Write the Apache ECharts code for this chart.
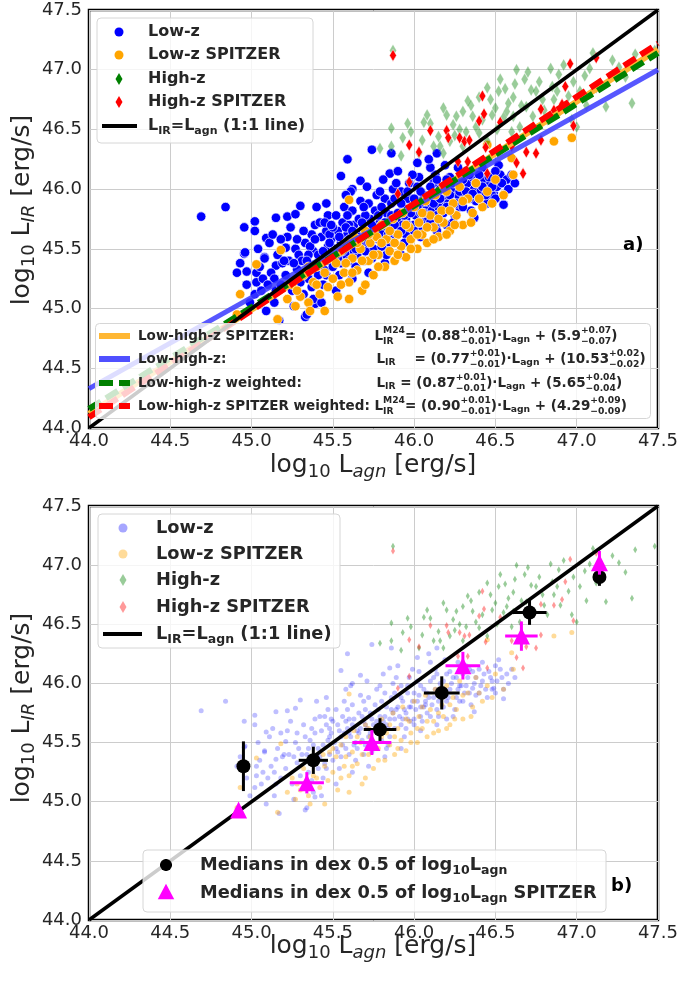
<!DOCTYPE html>
<html><head><meta charset="utf-8">
<script src="https://cdn.jsdelivr.net/npm/echarts@6/dist/echarts.min.js"></script>
<style>html,body{margin:0;padding:0;background:#fff}#c{width:681px;height:982px}</style>
</head><body><div id="c"></div>
<script>
// ---------------- DATA ----------------
const tickValues = [44.0, 44.5, 45.0, 45.5, 46.0, 46.5, 47.0, 47.5];

// Low-z sample: [log10 L_agn, log10 L_IR]
const lowZ = [
 [44.69,45.77],[44.84,45.85],[44.955,45.68],[45.02,45.73],[45.02,45.65],[45.09,45.59],[45.15,45.76],[45.22,45.77],[45.27,45.79],[45.30,45.86],
 [44.955,45.46],[44.91,45.30],[44.97,45.31],[45.03,45.30],[45.03,45.22],[45.08,45.43],[45.15,45.15],[45.17,44.90],[45.33,44.93],[45.39,45.04],
 [45.15,45.36],[45.21,45.51],[45.59,46.25],[45.55,46.11],[45.74,46.33],[45.85,46.13],[45.67,46.07],[45.62,46.00],[45.86,46.30],[46.55,45.87],
 [46.37,45.76],[46.49,45.96],[46.14,46.30],[46.02,46.22],
 [44.93,45.38],[44.97,45.20],[44.99,45.05],[44.96,45.47],
 [45.02,45.12],[45.05,45.35],[45.07,45.25],[45.04,45.50],[45.09,44.98],[45.08,45.42],
 [45.12,45.30],[45.14,45.05],[45.16,45.45],[45.18,45.20],[45.11,45.55],[45.19,45.38],[45.13,45.62],
 [45.21,45.28],[45.23,45.40],[45.25,45.15],[45.27,45.50],[45.22,45.60],[45.28,45.33],[45.26,45.02],[45.29,45.45],[45.24,45.68],
 [45.31,45.40],[45.33,45.55],[45.35,45.25],[45.37,45.62],[45.32,45.12],[45.38,45.48],[45.36,45.35],[45.39,45.70],[45.34,44.95],[45.38,45.08],
 [45.41,45.45],[45.43,45.60],[45.45,45.32],[45.47,45.52],[45.42,45.72],[45.48,45.40],[45.46,45.65],[45.44,45.20],[45.49,45.58],[45.43,45.05],[45.47,45.78],
 [45.51,45.50],[45.53,45.65],[45.55,45.38],[45.57,45.58],[45.52,45.78],[45.58,45.45],[45.56,45.72],[45.54,45.28],[45.59,45.62],[45.52,45.15],[45.57,45.85],[45.55,45.55],
 [45.61,45.55],[45.63,45.70],[45.65,45.45],[45.67,45.62],[45.62,45.82],[45.68,45.52],[45.66,45.75],[45.64,45.35],[45.69,45.68],[45.62,45.25],[45.67,45.90],[45.65,45.60],[45.61,45.98],
 [45.71,45.62],[45.73,45.75],[45.75,45.50],[45.77,45.68],[45.72,45.88],[45.78,45.58],[45.76,45.82],[45.74,45.42],[45.79,45.72],[45.72,45.30],[45.77,45.95],[45.75,45.65],[45.71,46.02],
 [45.81,45.68],[45.83,45.80],[45.85,45.55],[45.87,45.75],[45.82,45.92],[45.88,45.62],[45.86,45.88],[45.84,45.48],[45.89,45.78],[45.82,45.38],[45.87,46.00],[45.85,45.70],[45.81,46.08],
 [45.91,45.72],[45.93,45.85],[45.95,45.62],[45.97,45.80],[45.92,45.98],[45.98,45.68],[45.96,45.92],[45.94,45.55],[45.99,45.85],[45.92,45.45],[45.97,46.05],[45.95,45.75],
 [46.01,45.78],[46.03,45.90],[46.05,45.68],[46.07,45.85],[46.02,46.02],[46.08,45.75],[46.06,45.95],[46.04,45.60],[46.09,45.88],[46.03,46.10],[46.07,45.82],
 [46.11,45.82],[46.13,45.95],[46.15,45.72],[46.17,45.90],[46.12,46.05],[46.18,45.80],[46.16,46.00],[46.14,45.65],[46.19,45.92],[46.13,46.12],
 [46.21,45.88],[46.23,46.00],[46.25,45.78],[46.27,45.95],[46.22,46.10],[46.28,45.85],[46.26,46.05],[46.24,45.72],[46.29,45.98],
 [46.31,45.92],[46.33,46.05],[46.35,45.82],[46.37,46.00],[46.32,46.15],[46.38,45.90],[46.36,46.10],
 [46.41,45.98],[46.43,46.08],[46.45,45.88],[46.47,46.05],[46.42,46.18],[46.48,45.95],
 [46.51,46.02],[46.53,46.12],[46.55,45.95],[46.57,46.08],[46.52,46.20],
 [45.46,45.88],[45.58,45.95],[45.69,45.40],[45.80,45.52],[45.90,46.15],[46.00,45.70],[46.10,46.18],[46.20,45.70],[45.40,45.85],[45.53,45.42],
 [45.63,45.48],[45.73,45.58],[45.83,45.65],[45.93,45.70],[46.04,45.80],[46.15,45.85],[45.36,45.52],[45.48,45.62],[45.60,45.70],[45.70,45.78],
 [45.42,45.38],[45.44,45.48],[45.46,45.28],[45.48,45.55],[45.50,45.35],[45.50,45.68],[45.52,45.45],[45.54,45.60],[45.56,45.48],[45.58,45.68],
 [45.60,45.40],[45.60,45.58],[45.62,45.65],[45.64,45.50],[45.66,45.58],[45.68,45.72],[45.70,45.48],[45.70,45.65],[45.72,45.55],[45.74,45.70],
 [45.76,45.60],[45.78,45.78],[45.80,45.62],[45.80,45.85],[45.82,45.72],[45.84,45.62],[45.86,45.78],[45.88,45.70],[45.88,45.92],[45.90,45.80],
 [45.92,45.65],[45.92,45.88],[45.94,45.78],[45.96,45.70],[45.96,45.98],[45.98,45.80],[46.00,45.92],[46.00,45.65],[46.02,45.85],[46.04,45.72],
 [46.04,45.98],[46.06,45.80],[46.08,45.92],[46.10,45.72],[46.10,46.02],[46.12,45.88],[46.14,45.78],[46.14,46.08],[46.16,45.92],[46.18,46.02],
 [46.20,45.85],[46.20,46.08],[46.22,45.95],[46.24,46.05],[46.26,45.88],[46.28,45.98],[46.30,46.08],[46.30,45.85],[46.32,45.98],[46.34,45.92],
 [46.34,46.12],[46.36,45.96],[46.38,46.05],[46.40,45.92],[46.40,46.12],[46.42,46.02],[46.44,45.95],[46.46,46.10],[46.48,46.02],[46.50,45.92],
 [46.50,46.15],[46.54,46.05],[46.58,46.00],[46.60,46.12],[46.62,46.05],[45.35,45.45],[45.37,45.18],[45.39,45.58],[45.41,45.28],[45.45,45.72],
 [45.28,45.58],[45.26,45.38],[45.30,45.22],[45.32,45.65],[45.34,45.40],[45.20,45.40],[45.18,45.58],[45.14,45.25],[45.10,45.20],[45.06,45.15],
 [46.09,46.25],[46.19,46.20],[46.27,46.18],[45.99,46.12],[45.89,46.05],[45.79,45.98],[45.69,45.85],[45.59,45.78],[45.49,45.70],[45.83,45.45]
];

// Low-z SPITZER sample
const lowZSp = [
 [44.93,45.12],[44.91,44.95],[45.03,45.37],[45.18,45.49],[45.16,44.91],[45.27,45.02],[45.60,45.91],
 [45.25,45.20],[45.30,45.10],[45.32,45.28],[45.35,45.05],[45.38,45.22],[45.40,45.35],[45.42,45.12],[45.45,45.30],[45.47,45.18],
 [45.48,45.42],[45.50,45.25],[45.52,45.38],[45.53,45.10],[45.55,45.48],[45.57,45.30],[45.58,45.55],[45.60,45.22],[45.62,45.42],
 [45.63,45.60],[45.65,45.32],[45.67,45.50],[45.68,45.15],[45.70,45.65],[45.72,45.40],[45.73,45.55],[45.75,45.28],[45.77,45.60],
 [45.78,45.45],[45.80,45.70],[45.82,45.35],[45.83,45.58],[45.85,45.48],[45.87,45.75],[45.88,45.40],[45.90,45.62],[45.92,45.52],
 [45.93,45.80],[45.95,45.43],[45.97,45.68],[45.98,45.58],[46.00,45.85],[46.02,45.50],[46.03,45.72],[46.05,45.62],[46.07,45.90],
 [46.08,45.55],[46.10,45.78],[46.12,45.68],[46.13,45.95],[46.15,45.60],[46.17,45.82],[46.18,45.72],[46.20,45.98],[46.22,45.65],
 [46.24,45.88],[46.26,45.78],[46.28,46.02],[46.30,45.70],[46.33,45.92],[46.36,45.80],[46.38,46.05],[46.42,45.85],[46.45,45.98],
 [46.50,46.08],[46.55,45.95],[46.61,46.12],[46.86,46.40],[46.97,46.43],[45.60,45.08],[45.45,44.98],[45.70,45.20],[46.45,46.37],[46.60,46.26],
 [45.40,45.20],[45.44,45.40],[45.50,45.45],[45.55,45.20],[45.58,45.38],[45.62,45.30],[45.65,45.55],[45.68,45.40],[45.72,45.62],[45.75,45.45],
 [45.78,45.35],[45.80,45.55],[45.85,45.65],[45.88,45.55],[45.90,45.45],[45.95,45.70],[45.98,45.50],[46.02,45.62],[46.05,45.80],[46.08,45.68],
 [46.12,45.58],[46.15,45.75],[46.20,45.62],[46.22,45.82],[46.25,45.70],[46.30,45.90],[46.35,45.72],[46.40,45.92],[46.48,45.88],[45.35,45.35],
 [45.28,45.15],[45.22,45.08],[45.36,44.98]
];

// High-z sample
const highZ = [
 [45.87,47.16],[45.96,46.55],[45.86,46.51],[45.79,46.34],[45.86,46.36],[45.93,46.43],[46.06,46.56],[46.10,46.55],[46.05,46.41],[46.16,46.36],
 [46.15,46.44],[46.24,46.54],[46.26,46.61],[46.30,46.65],[46.33,46.74],[46.36,46.61],[46.28,46.50],[46.47,46.75],[46.50,46.68],[46.52,46.82],
 [46.56,46.84],[46.61,46.77],[46.57,46.65],[46.61,46.61],[46.68,46.92],[46.72,46.83],[46.75,46.82],[46.79,46.75],[46.84,47.01],[46.89,46.96],
 [46.85,46.86],[46.86,46.75],[46.90,46.66],[46.98,46.90],[47.02,46.82],[46.97,46.58],[47.00,46.52],[47.10,47.14],[47.08,47.01],[47.18,46.69],
 [47.30,46.94],[47.34,46.72],[46.40,46.77],[46.69,46.69],[46.73,46.61],[46.65,46.52],[46.51,46.50],[46.40,46.47],[46.12,46.36],[46.18,46.30],
 [46.30,46.36],[46.20,46.62],[46.35,46.70],[46.42,46.58],[46.45,46.85],[46.55,46.60],[46.62,46.88],[46.66,46.70],[46.70,46.98],[46.77,46.90],
 [46.80,46.66],[46.92,47.04],[46.95,46.78],[47.05,46.95],[47.12,46.85],[47.22,47.08],[47.26,47.02],[47.36,47.13],[47.48,47.16],[46.25,46.45],
 [46.38,46.52],[46.48,46.62],[46.58,46.72],[45.98,46.48],[46.08,46.62],[46.18,46.68],[46.45,46.40],[46.60,46.48],[46.82,46.58],[46.03,46.30],
 [45.92,46.28],[46.22,46.40],[46.32,46.48],[46.53,46.92],[46.63,47.00],[46.88,46.82],[47.06,46.70]
];

// High-z SPITZER sample
const highZSp = [
 [45.87,47.12],[46.96,47.05],[46.93,46.86],[46.42,46.78],[46.43,46.63],[46.40,46.57],[46.10,46.49],[46.20,46.49],[46.21,46.43],[45.97,46.37],
 [46.03,46.31],[46.28,46.43],[46.31,46.40],[46.34,46.41],[46.53,46.56],[46.78,46.67],[46.75,46.30],[46.69,46.31],[46.67,46.13],[46.63,46.22],
 [46.98,46.53],[45.97,46.06],[45.90,45.96],[46.27,46.23],[46.33,46.23],[46.45,46.13],[46.44,46.35],[46.91,46.71],[47.12,47.10],[46.86,46.66],
 [46.78,46.41],[46.60,46.36]
];

// Fit lines: value of log10 L_IR at the two ends of the x range
const fitRange = [44.0, 47.5];
const fitSpitzer = [44.12, 47.17];     // Low-high-z SPITZER
const fitLowHigh = [44.33, 47.00];     // Low-high-z
const fitWeighted = [44.16, 47.14];    // Low-high-z weighted
const fitSpitzerW = [44.09, 47.22];    // Low-high-z SPITZER weighted
const oneToOne = [44.0, 47.5];

// Medians (panel b)
const medX = [44.95, 45.38, 45.79, 46.17, 46.71, 47.14];
const medY = [45.30, 45.35, 45.61, 45.92, 46.60, 46.90];
const medErrX = [0.02, 0.09, 0.10, 0.11, 0.105, 0.02];
const medErrY = [0.21, 0.115, 0.096, 0.14, 0.105, 0.075];
const medSpX = [44.92, 45.34, 45.74, 46.30, 46.66, 47.14];
const medSpY = [44.93, 45.16, 45.50, 46.15, 46.40, 47.02];
const medSpErrX = [0.02, 0.105, 0.12, 0.107, 0.10, 0.02];
const medSpErrY = [0.02, 0.09, 0.105, 0.117, 0.124, 0.10];

// ---------------- TEXT LAYOUT HELPERS ----------------
const FAM = '"DejaVu Sans"';
const TXT = '#262626';
const mctx = document.createElement('canvas').getContext('2d');
function fnt(size, weight, style) { return (style || 'normal') + ' ' + (weight || 'normal') + ' ' + size + 'px ' + FAM; }
function tw(s, f) { mctx.font = f; return mctx.measureText(s).width; }
function layout(pieces, o, z) {
  const S = o.size, W = o.weight || 'normal', col = o.color || TXT;
  const subS = o.subSize || Math.round(S * 0.7 * 10) / 10;
  const kids = []; let x = 0;
  const mk = (tx, xx, yy, f) => ({ type: 'text', z: z, x: xx, y: yy, style: { text: tx, font: f, fill: col, verticalAlign: 'middle', align: 'left' } });
  pieces.forEach(p => {
    if (typeof p === 'string') {
      const f = fnt(S, W, o.style);
      kids.push(mk(p, x, 0, f)); x += tw(p, f);
    } else if (p.sub !== undefined) {
      const f = fnt(subS, W, p.italic ? 'italic' : 'normal');
      kids.push(mk(p.sub, x, S * (o.subDy || 0.3), f)); x += tw(p.sub, f);
    } else if (p.stack) {
      const f = fnt(subS, W);
      kids.push(mk(p.stack[0], x, -S * 0.38, f));
      kids.push(mk(p.stack[1], x, S * 0.42, f));
      x += Math.max(tw(p.stack[0], f), tw(p.stack[1], f));
    }
  });
  return { kids, width: x };
}
function textGroup(x, y, pieces, o, z) {
  z = z || 100;
  const L = layout(pieces, o, z);
  const off = o.center ? -L.width / 2 : 0;
  L.kids.forEach(k => k.x += off);
  return { type: 'group', x: x, y: y, rotation: o.rotation || 0, z: z, children: L.kids };
}

// ---------------- GRAPHIC (legends, labels) ----------------
const G = [];
function box(x, y, w, h) {
  G.push({ type: 'rect', z: 90, shape: { x: x, y: y, width: w, height: h, r: 4 }, style: { fill: 'rgba(255,255,255,0.8)', stroke: '#d6d6d6', lineWidth: 1 } });
}
function circ(cx, cy, r, fill) { G.push({ type: 'circle', z: 95, shape: { cx, cy, r }, style: { fill } }); }
function diam(cx, cy, w, h, fill) { G.push({ type: 'polygon', z: 95, shape: { points: [[cx, cy - h / 2], [cx + w / 2, cy], [cx, cy + h / 2], [cx - w / 2, cy]] }, style: { fill } }); }
function hline(x1, x2, y, col, w, dash) { G.push({ type: 'line', z: 95, shape: { x1, y1: y, x2, y2: y }, style: { stroke: col, lineWidth: w, lineDash: dash || null } }); }
function vline(x, y1, y2, col, w) { G.push({ type: 'line', z: 95, shape: { x1: x, y1, x2: x, y2 }, style: { stroke: col, lineWidth: w } }); }
function tri(cx, cy, s, fill) { G.push({ type: 'polygon', z: 95, shape: { points: [[cx, cy - s * 0.62], [cx + s * 0.55, cy + s * 0.42], [cx - s * 0.55, cy + s * 0.42]] }, style: { fill } }); }

const lirLagn = ['L', { sub: 'IR' }, '=L', { sub: 'agn' }, ' (1:1 line)'];

// Top legend (panel a)
const LS = 16;
box(97, 18, 216, 125);
const r1 = [32, 55, 79, 102, 126];
circ(119, r1[0], 4.5, '#0000ff');
circ(119, r1[1], 4.5, '#ffa500');
diam(119, r1[2], 7, 12, '#008000');
diam(119, r1[3], 7, 12, '#ff0000');
hline(102, 137, r1[4], '#000', 4);
['Low-z', 'Low-z SPITZER', 'High-z', 'High-z SPITZER'].forEach((t, i) => G.push(textGroup(148, r1[i], [t], { size: LS, weight: 'bold' })));
G.push(textGroup(148, r1[4], lirLagn, { size: LS, weight: 'bold', subSize: 11 }));

// Fit legend
box(95.5, 323.5, 555, 95);
const fs = 13.5, fsub = 9.2;
const r2 = [336, 359, 383, 406];
hline(99, 130, r2[0], '#ffb733', 6);
hline(99, 130, r2[1], '#5050ff', 6);
hline(99, 130, r2[2], '#008000', 6, [14, 6]);
hline(99, 130, r2[3], '#ff0000', 6, [14, 6]);
const fo = { size: fs, weight: 'bold', subSize: fsub };
G.push(textGroup(138, r2[0], ['Low-high-z SPITZER:'], fo));
G.push(textGroup(138, r2[1], ['Low-high-z:'], fo));
G.push(textGroup(138, r2[2], ['Low-high-z weighted:'], fo));
const row4a = 'Low-high-z SPITZER weighted: ';
G.push(textGroup(138, r2[3], [row4a], fo));
const fx = 138 + tw(row4a, fnt(fs, 'bold'));
G.push(textGroup(fx, r2[0], ['L', { stack: ['M24', 'IR'] }, '= (0.88', { stack: ['+0.01', '\u22120.01'] }, ')\u00b7L', { sub: 'agn' }, ' + (5.9', { stack: ['+0.07', '\u22120.07'] }, ')'], fo));
G.push(textGroup(fx + 2, r2[1], ['L', { sub: 'IR' }, '    = (0.77', { stack: ['+0.01', '\u22120.01'] }, ')\u00b7L', { sub: 'agn' }, ' + (10.53', { stack: ['+0.02', '\u22120.02'] }, ')'], fo));
G.push(textGroup(fx + 2, r2[2], ['L', { sub: 'IR' }, ' = (0.87', { stack: ['+0.01', '\u22120.01'] }, ')\u00b7L', { sub: 'agn' }, ' + (5.65', { stack: ['+0.04', '\u22120.04'] }, ')'], fo));
G.push(textGroup(fx, r2[3], ['L', { stack: ['M24', 'IR'] }, '= (0.90', { stack: ['+0.01', '\u22120.01'] }, ')\u00b7L', { sub: 'agn' }, ' + (4.29', { stack: ['+0.09', '\u22120.09'] }, ')'], fo));

// Bottom legend 1 (panel b)
const LB = 17.8;
box(98, 514, 242, 134);
const r3 = [528, 554, 580, 607, 634];
circ(123, r3[0], 4.5, 'rgba(0,0,255,0.35)');
circ(123, r3[1], 4.5, 'rgba(255,165,0,0.4)');
diam(123, r3[2], 7, 12, 'rgba(0,128,0,0.4)');
diam(123, r3[3], 7, 12, 'rgba(255,0,0,0.4)');
hline(103, 142, r3[4], '#000', 4);
['Low-z', 'Low-z SPITZER', 'High-z', 'High-z SPITZER'].forEach((t, i) => G.push(textGroup(156, r3[i], [t], { size: LB, weight: 'bold' })));
G.push(textGroup(156, r3[4], lirLagn, { size: LB, weight: 'bold', subSize: 12.5 }));

// Bottom legend 2
box(143, 850, 463, 62);
hline(160, 172, 865, '#000', 2.5); vline(166, 859, 871, '#000', 2.5); circ(166, 865, 6, '#000');
tri(166, 893, 15, '#ff00ff');
const medTxt = ['Medians in dex 0.5 of log', { sub: '10' }, 'L', { sub: 'agn' }];
G.push(textGroup(200, 865, medTxt, { size: LB, weight: 'bold', subSize: 12.5 }));
G.push(textGroup(200, 893, medTxt.concat([' SPITZER']), { size: LB, weight: 'bold', subSize: 12.5 }));

// Panel tags
G.push(textGroup(623, 245, ['a)'], { size: 18, weight: 'bold', color: '#000' }));
G.push(textGroup(611, 886, ['b)'], { size: 18, weight: 'bold', color: '#000' }));

// Axis titles
const AS = 25;
const xTitle = ['log', { sub: '10' }, ' L', { sub: 'agn', italic: true }, ' [erg/s]'];
const yTitle = ['log', { sub: '10' }, ' L', { sub: 'IR', italic: true }, ' [erg/s]'];
G.push(textGroup(373, 465, xTitle, { size: AS, center: true, subSize: 18 }));
G.push(textGroup(373, 946, xTitle, { size: AS, center: true, subSize: 18 }));
G.push(textGroup(22, 210, yTitle, { size: AS, center: true, subSize: 18, rotation: Math.PI / 2 }));
G.push(textGroup(22, 708, yTitle, { size: AS, center: true, subSize: 18, rotation: Math.PI / 2 }));

// ---------------- CHART ----------------
const axMin = tickValues[0], axMax = tickValues[tickValues.length - 1], axStep = tickValues[1] - tickValues[0];
function mkAxis(grid, isX) {
  return {
    type: 'value', gridIndex: grid, min: axMin, max: axMax, interval: axStep,
    axisLine: { show: false }, axisTick: { show: false },
    axisLabel: { fontSize: 18, color: TXT, fontFamily: FAM, margin: isX ? 4 : 7, formatter: v => v.toFixed(1) },
    splitLine: { show: true, lineStyle: { color: '#cccccc', width: 1 } }
  };
}
function lineSeries(g, ys, color, width, dash, z, opacity) {
  return {
    type: 'line', xAxisIndex: g, yAxisIndex: g, data: fitRange.map((x, i) => [x, ys[i]]),
    showSymbol: false, symbol: 'none', silent: true, z: z,
    lineStyle: { color: color, width: width, type: dash || 'solid', opacity: opacity == null ? 1 : opacity, cap: 'butt' }
  };
}
function errSeries(xs, ys, exs, eys, color, z) {
  return {
    type: 'custom', xAxisIndex: 1, yAxisIndex: 1, z: z, silent: true,
    data: xs.map((x, i) => [x, ys[i], exs[i], eys[i]]),
    renderItem: function (params, api) {
      const x = api.value(0), y = api.value(1), ex = api.value(2), ey = api.value(3);
      const l = api.coord([x - ex, y]), r = api.coord([x + ex, y]), t = api.coord([x, y + ey]), b = api.coord([x, y - ey]);
      return { type: 'group', children: [
        { type: 'line', shape: { x1: l[0], y1: l[1], x2: r[0], y2: r[1] }, style: { stroke: color, lineWidth: 3 } },
        { type: 'line', shape: { x1: t[0], y1: t[1], x2: b[0], y2: b[1] }, style: { stroke: color, lineWidth: 3 } }
      ] };
    }
  };
}
function scat(g, data, symbol, size, color, opacity, border, z) {
  return { type: 'scatter', xAxisIndex: g, yAxisIndex: g, data: data, symbol: symbol, symbolSize: size, z: z || 2, silent: true,
    itemStyle: { color: color, opacity: opacity, borderColor: border ? '#fff' : null, borderWidth: border || 0 } };
}

const chart = echarts.init(document.getElementById('c'), null, { renderer: 'canvas' });
chart.setOption({
  animation: false,
  backgroundColor: '#fff',
  grid: [
    { left: 89, top: 10, width: 569, height: 418, show: true, borderColor: '#000', borderWidth: 2.5, backgroundColor: '#fff', z: 0 },
    { left: 89, top: 506, width: 569, height: 414, show: true, borderColor: '#000', borderWidth: 2.5, backgroundColor: '#fff', z: 0 }
  ],
  xAxis: [mkAxis(0, true), mkAxis(1, true)],
  yAxis: [mkAxis(0, false), mkAxis(1, false)],
  series: [
    // Panel a
    scat(0, lowZ, 'circle', 9.5, '#0000ff', 1, 0.7),
    scat(0, lowZSp, 'circle', 9.5, '#ffa500', 1, 0.7),
    scat(0, highZ, 'diamond', [7, 12], '#008000', 0.4, 0.5),
    scat(0, highZSp, 'diamond', [7, 12], '#ff0000', 1, 0.5),
    lineSeries(0, fitSpitzer, '#ffb733', 6, 'solid', 3),
    lineSeries(0, fitLowHigh, '#3a3aff', 5, 'solid', 3, 0.85),
    lineSeries(0, fitWeighted, '#008000', 6, [14, 6], 3),
    lineSeries(0, fitSpitzerW, '#ff0000', 6, [14, 6], 3),
    lineSeries(0, oneToOne, '#000000', 3.5, 'solid', 4),
    // Panel b
    scat(1, lowZ, 'circle', 5, '#0000ff', 0.25, 0),
    scat(1, lowZSp, 'circle', 5, '#ffa500', 0.4, 0),
    scat(1, highZ, 'diamond', [4, 7], '#008000', 0.4, 0),
    scat(1, highZSp, 'diamond', [4, 7], '#ff0000', 0.4, 0),
    lineSeries(1, oneToOne, '#000000', 3.5, 'solid', 3),
    errSeries(medX, medY, medErrX, medErrY, '#000', 4),
    scat(1, medX.map((x, i) => [x, medY[i]]), 'circle', 14, '#000', 1, 0, 5),
    errSeries(medSpX, medSpY, medSpErrX, medSpErrY, '#ff00ff', 6),
    scat(1, medSpX.map((x, i) => [x, medSpY[i]]), 'triangle', 17, '#ff00ff', 1, 0, 7)
  ],
  graphic: G
});
</script></body></html>
